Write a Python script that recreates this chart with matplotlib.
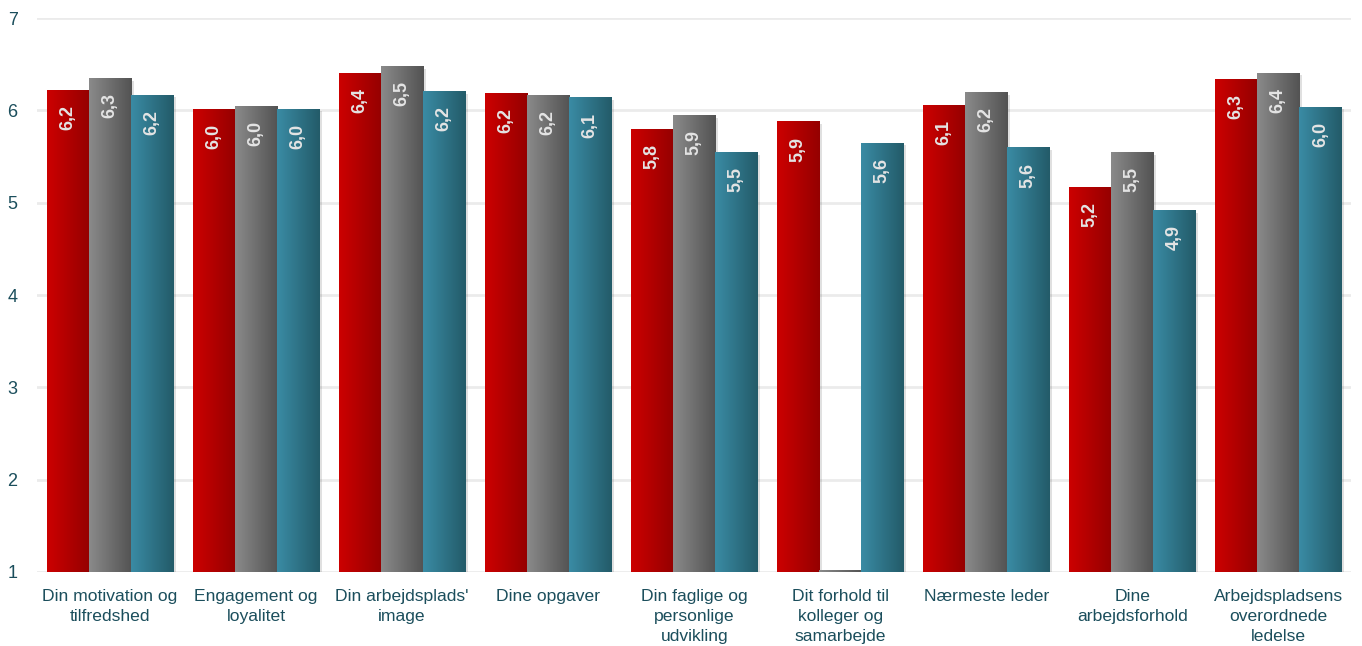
import numpy as np
import matplotlib
matplotlib.use('Agg')
import matplotlib.pyplot as plt
from matplotlib.colors import LinearSegmentedColormap
import matplotlib.patheffects as pe

plt.rcParams['font.family'] = ['Liberation Sans', 'DejaVu Sans']

# Data
categories = [
    'Din motivation og\ntilfredshed',
    'Engagement og\nloyalitet',
    "Din arbejdsplads'\nimage",
    'Dine opgaver',
    'Din faglige og\npersonlige\nudvikling',
    'Dit forhold til\nkolleger og\nsamarbejde',
    'Nærmeste leder',
    'Dine\narbejdsforhold',
    'Arbejdspladsens\noverordnede\nledelse',
]
series_red = [6.22, 6.02, 6.41, 6.19, 5.80, 5.88, 6.06, 5.17, 6.34]
series_gray = [6.35, 6.05, 6.48, 6.17, 5.95, 1.02, 6.20, 5.55, 6.41]
series_teal = [6.17, 6.02, 6.21, 6.14, 5.55, 5.65, 5.60, 4.92, 6.04]
labels_red = ['6,2', '6,0', '6,4', '6,2', '5,8', '5,9', '6,1', '5,2', '6,3']
labels_gray = ['6,3', '6,0', '6,5', '6,2', '5,9', '', '6,2', '5,5', '6,4']
labels_teal = ['6,2', '6,0', '6,2', '6,1', '5,5', '5,6', '5,6', '4,9', '6,0']

gradients = [('#cc0000', '#950000'), ('#8a8a8a', '#535353'), ('#3a8ba4', '#235b69')]
text_color = '#1b4e5c'

fig = plt.figure(figsize=(13.62, 6.46), dpi=100)
ax = fig.add_axes([0.0272, 0.1146, 0.965, 0.8574])

x = np.arange(len(categories))
width = 0.288
baseline = 1

grad = np.linspace(0, 1, 64).reshape(1, -1)
all_series = [series_red, series_gray, series_teal]
all_labels = [labels_red, labels_gray, labels_teal]

for i, (vals, labs, (c1, c2)) in enumerate(zip(all_series, all_labels, gradients)):
    cmap = LinearSegmentedColormap.from_list('g%d' % i, [c1, c2])
    pos = x + (i - 1) * width
    bars = ax.bar(pos, np.array(vals) - baseline, width, bottom=baseline,
                  color=c2, linewidth=0, zorder=2)
    for bar, lab in zip(bars, labs):
        bar.set_path_effects([pe.SimplePatchShadow(offset=(2, -2), shadow_rgbFace='#000000', alpha=0.12),
                              pe.Normal()])
        bx, by = bar.get_x(), bar.get_y()
        bw, bh = bar.get_width(), bar.get_height()
        im = ax.imshow(grad, cmap=cmap, aspect='auto', extent=[bx, bx + bw, by, by + bh],
                       zorder=3, interpolation='bicubic')
        im.set_clip_path(bar)
        if lab:
            ax.annotate(lab, (bx + bw / 2, by + bh), xytext=(0, -11), textcoords='offset points',
                        rotation=90, ha='center', va='top', color='#e4e4e4',
                        fontsize=13, fontweight='bold', zorder=4)

ax.set_xlim(-0.5, len(categories) - 0.5)
ax.set_ylim(1, 7)
ax.set_yticks(range(1, 8))
ax.set_xticks(x)
ax.set_xticklabels(categories, fontsize=12.6, color=text_color, linespacing=1.45)
ax.tick_params(axis='y', labelsize=13, labelcolor=text_color, length=0, pad=14)
ax.tick_params(axis='x', length=0, pad=12)
ax.grid(axis='y', color='#ebebeb', linewidth=2, zorder=0)
ax.set_axisbelow(True)
for s in ax.spines.values():
    s.set_visible(False)

fig.savefig('out.png', dpi=100)
